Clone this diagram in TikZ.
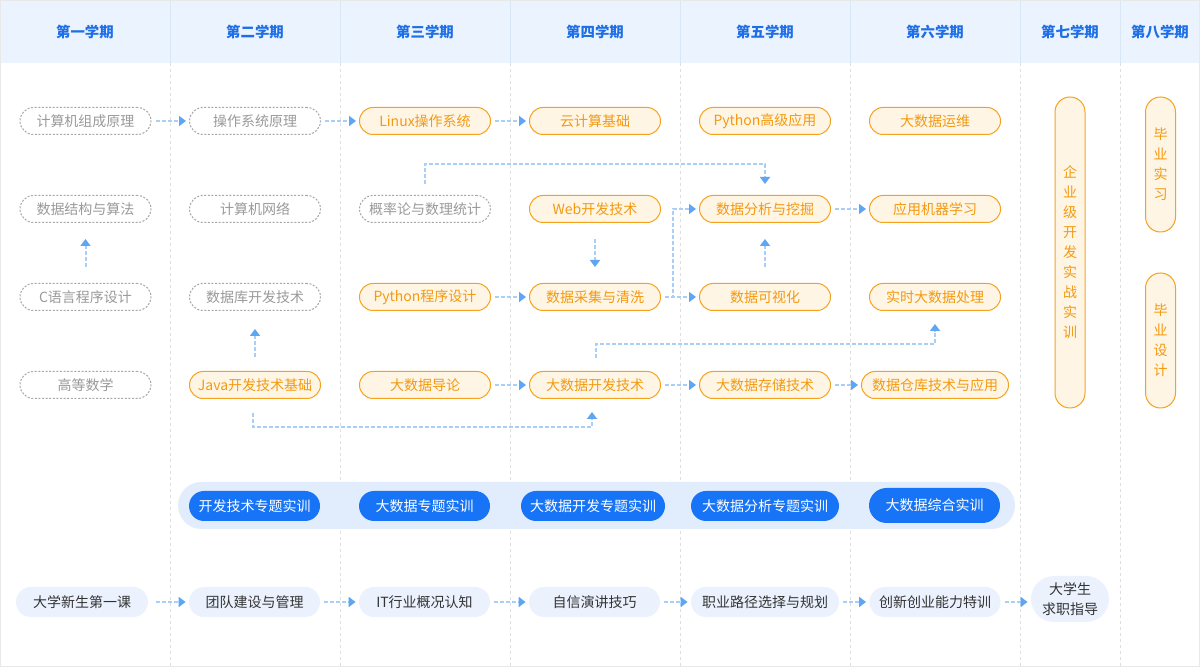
\documentclass[tikz,border=0pt]{standalone}
\usepackage{fontspec}
\setmainfont{Noto Sans CJK SC}
\usetikzlibrary{arrows.meta,calc}
\definecolor{hdrbg}{HTML}{EAF3FE}
\definecolor{hdrdiv}{HTML}{D8E6F5}
\definecolor{hdrtx}{HTML}{1E6EE6}
\definecolor{graytx}{HTML}{9A9A9A}
\definecolor{grayln}{HTML}{A8A8A8}
\definecolor{orln}{HTML}{F5A31E}
\definecolor{orbg}{HTML}{FFF5E5}
\definecolor{ortx}{HTML}{F39A0F}
\definecolor{arrln}{HTML}{A9CFF8}
\definecolor{arrtip}{HTML}{5EA6F4}
\definecolor{divln}{HTML}{DEDEDE}
\definecolor{bandbg}{HTML}{E1EDFD}
\definecolor{btnbg}{HTML}{1874F6}
\definecolor{botbg}{HTML}{EBF2FE}
\definecolor{bottx}{HTML}{333333}
\definecolor{frame}{HTML}{E8E8E8}
\begin{document}
\begin{tikzpicture}[x=0.5pt,y=-0.5pt,
  course/.style={rounded corners=6.75pt, minimum width=65.5pt, minimum height=13.5pt, inner sep=0pt, line width=0.5pt, font=\fontsize{7}{8}\selectfont},
  gcourse/.style={course, draw=grayln, dash pattern=on 1pt off 0.8pt, text=graytx},
  ocourse/.style={course, draw=orln, fill=orbg, text=ortx},
  vcourse/.style={draw=orln, fill=orbg, text=ortx, line width=0.5pt, rounded corners=7.5pt, minimum width=15pt, inner sep=0pt, align=center, font=\fontsize{7}{10}\selectfont},
  hdr/.style={text=hdrtx, font=\fontsize{7.2}{8}\selectfont\bfseries},
  btn/.style={fill=btnbg, text=white, rounded corners=7.5pt, minimum height=15pt, inner sep=0pt, font=\fontsize{7}{8}\selectfont},
  bot/.style={fill=botbg, text=bottx, rounded corners=7.5pt, minimum height=15pt, minimum width=65.5pt, inner sep=0pt, align=center, font=\fontsize{7}{10}\selectfont},
  arr/.style={draw=arrln, line width=1pt, dash pattern=on 2pt off 1pt, -{Triangle[length=3.5pt,width=5pt,color=arrtip]}}
]
\useasboundingbox (0,0) rectangle (1200,667);
\fill[white] (0,0) rectangle (1200,667);
% header
\fill[hdrbg] (0,0) rectangle (1200,63);
\foreach \x in {170,340,510,680,850,1020,1120}{
  \draw[hdrdiv, line width=0.5pt] (\x,0) -- (\x,63);
  \draw[divln, line width=0.5pt, dash pattern=on 1.5pt off 1.5pt] (\x,63) -- (\x,667);
}
\draw[frame, line width=0.5pt] (0.5,0.5) rectangle (1199.5,666.5);
\node[hdr] (h1) at (85,32) {第一学期};
\node[hdr] (h2) at (255,32) {第二学期};
\node[hdr] (h3) at (425,32) {第三学期};
\node[hdr] (h4) at (595,32) {第四学期};
\node[hdr] (h5) at (765,32) {第五学期};
\node[hdr] (h6) at (935,32) {第六学期};
\node[hdr] (h7) at (1070,32) {第七学期};
\node[hdr] (h8) at (1160,32) {第八学期};
% row 1
\node[gcourse] (jz) at (85.5,121) {计算机组成原理};
\node[gcourse] (cz) at (255,121) {操作系统原理};
\node[ocourse] (lx) at (425,121) {Linux操作系统};
\node[ocourse] (yj) at (595,121) {云计算基础};
\node[ocourse] (py) at (765,121) {Python高级应用};
\node[ocourse] (yw) at (935,121) {大数据运维};
% row 2
\node[gcourse] (sj) at (85.5,209) {数据结构与算法};
\node[gcourse] (wl) at (255,209) {计算机网络};
\node[gcourse] (gl) at (425,209) {概率论与数理统计};
\node[ocourse] (web) at (595,209) {Web开发技术};
\node[ocourse] (fx) at (765,209) {数据分析与挖掘};
\node[ocourse] (ml) at (935,209) {应用机器学习};
% row 3
\node[gcourse] (cy) at (85.5,297) {C语言程序设计};
\node[gcourse] (sk) at (255,297) {数据库开发技术};
\node[ocourse] (pp) at (425,297) {Python程序设计};
\node[ocourse] (cj) at (595,297) {数据采集与清洗};
\node[ocourse] (ks) at (765,297) {数据可视化};
\node[ocourse] (ss) at (935,297) {实时大数据处理};
% row 4
\node[gcourse] (gs) at (85.5,385) {高等数学};
\node[ocourse] (jv) at (255,385) {Java开发技术基础};
\node[ocourse] (dl) at (425,385) {大数据导论};
\node[ocourse] (kf) at (595,385) {大数据开发技术};
\node[ocourse] (cc) at (765,385) {大数据存储技术};
\node[ocourse, minimum width=73.5pt] (ck) at (935,385) {数据仓库技术与应用};
% vertical
\node[vcourse, minimum height=155.5pt] (qy) at (1070,252.5) {企\\业\\级\\开\\发\\实\\战\\实\\训};
\node[vcourse, minimum height=67.5pt] (sx) at (1160.5,164.5) {毕\\业\\实\\习};
\node[vcourse, minimum height=67.5pt] (sy) at (1160.5,340.5) {毕\\业\\设\\计};
% arrows
\draw[arr] ([xshift=2pt]jz.east) -- ([xshift=-1.5pt]cz.west);
\draw[arr] ([xshift=2pt]cz.east) -- ([xshift=-1.5pt]lx.west);
\draw[arr] ([xshift=2pt]lx.east) -- ([xshift=-1.5pt]yj.west);
\draw[arr] ([yshift=8pt]cy.north) -- ([yshift=-8pt]sj.south);
\draw[arr] ([yshift=7pt]jv.north) -- ([yshift=-9pt]sk.south);
\draw[arr] ([yshift=5.5pt]gl.north) -- ++(0,10pt) -| ([yshift=5.5pt]fx.north);
\draw[arr] ([yshift=-8pt]web.south) -- ([yshift=8pt]cj.north);
\draw[arr] ([xshift=2pt]pp.east) -- ([xshift=-1.5pt]cj.west);
\draw[arr] ([xshift=2pt]cj.east) -- ([xshift=-1.5pt]ks.west);
\draw[arr] ([xshift=2pt]cj.east) -- ++(4pt,0) |- ([xshift=-1.5pt]fx.west);
\draw[arr] ([yshift=8pt]ks.north) -- ([yshift=-8pt]fx.south);
\draw[arr] ([xshift=2pt]fx.east) -- ([xshift=-1.5pt]ml.west);
\draw[arr] ([xshift=2pt]dl.east) -- ([xshift=-1.5pt]kf.west);
\draw[arr] ([xshift=2pt]kf.east) -- ([xshift=-1.5pt]cc.west);
\draw[arr] ([xshift=2pt]cc.east) -- ([xshift=-1.5pt]ck.west);
\draw[arr] ([xshift=0.5pt,yshift=6.5pt]kf.north) -- ++(0,7pt) -| ([yshift=-6.5pt]ss.south);
\draw[arr] ([xshift=-1pt,yshift=-7pt]jv.south) -- ++(0,-7pt) -| ([xshift=-1.5pt,yshift=-6.5pt]kf.south);
% training band
\node[fill=bandbg, rounded corners=11.75pt, minimum width=418.5pt, minimum height=23.5pt, inner sep=0pt] (band) at (596.5,505.5) {};
\node[btn, minimum width=65.5pt] (t1) at (254.5,506) {开发技术专题实训};
\node[btn, minimum width=65.5pt] (t2) at (424.5,506) {大数据专题实训};
\node[btn, minimum width=72pt] (t3) at (593,506) {大数据开发专题实训};
\node[btn, minimum width=74pt] (t4) at (765,506) {大数据分析专题实训};
\node[btn, minimum width=65.5pt, minimum height=17.5pt, rounded corners=8.75pt] (t5) at (934.5,505.5) {大数据综合实训};
% bottom row
\node[bot, minimum width=66pt] (b1) at (82,602) {大学新生第一课};
\node[bot] (b2) at (254.5,602) {团队建设与管理};
\node[bot] (b3) at (424.5,602) {IT行业概况认知};
\node[bot] (b4) at (594.5,602) {自信演讲技巧};
\node[bot, minimum width=74pt] (b5) at (765,602) {职业路径选择与规划};
\node[bot] (b6) at (935,602) {创新创业能力特训};
\node[bot, minimum width=39pt, minimum height=23pt, rounded corners=11.5pt] (b7) at (1070,599) {大学生\\求职指导};
\draw[arr] ([xshift=4pt]b1.east) -- ([xshift=-1.5pt]b2.west);
\draw[arr] ([xshift=2pt]b2.east) -- ([xshift=-1.5pt]b3.west);
\draw[arr] ([xshift=2pt]b3.east) -- ([xshift=-1.5pt]b4.west);
\draw[arr] ([xshift=2pt]b4.east) -- ([xshift=-1.5pt]b5.west);
\draw[arr] ([xshift=2pt]b5.east) -- ([xshift=-1.5pt]b6.west);
\draw[arr] ([xshift=2pt]b6.east) -- ([xshift=-1.5pt]b6.east -| b7.west);
\end{tikzpicture}
\end{document}
